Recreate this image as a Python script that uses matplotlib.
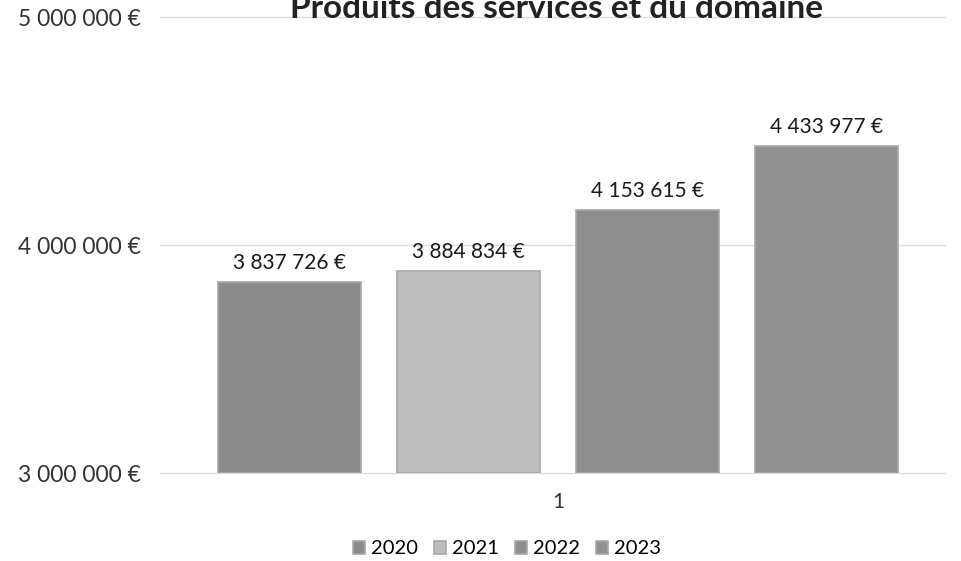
import matplotlib.pyplot as plt
import numpy as np

# data
years = ['2020', '2021', '2022', '2023']
values = [3837726, 3884834, 4153615, 4433977]
colors = ['#8b8b8b', '#bdbdbd', '#8e8e8e', '#919191']
title = 'Produits des services et du domaine'
category = '1'
y_ticks = [3000000, 4000000, 5000000]

plt.rcParams['font.family'] = ['Lato', 'DejaVu Sans']


def fmt(v):
    return '{:,}'.format(v).replace(',', ' ') + ' €'


fig = plt.figure(figsize=(9.61, 5.61), dpi=100)
ax = fig.add_axes([160 / 961, 1 - 473 / 561, 785 / 961, 456 / 561])

step = 0.228
width = 0.183
offsets = (np.arange(len(years)) - 1.5) * step
for off, v, c, y in zip(offsets, values, colors, years):
    ax.bar(off, v - y_ticks[0], bottom=y_ticks[0], width=width, color=c,
           edgecolor='#a8a8a8', linewidth=1.2, label=y, zorder=3)
    ax.text(off, v + 40000, fmt(v), ha='center', va='bottom',
            fontsize=15, color='#1a1a1a')

ax.set_xlim(-0.507, 0.493)
ax.set_ylim(y_ticks[0], y_ticks[-1])
ax.set_yticks(y_ticks, [fmt(t) for t in y_ticks])
ax.set_xticks([0], [category])
ax.tick_params(axis='both', length=0, labelsize=15, colors='#333333')
ax.tick_params(axis='x', pad=14)
for lbl in ax.get_yticklabels():
    lbl.set_fontsize(16.5)
ax.yaxis.set_tick_params(pad=14)
for s in ax.spines.values():
    s.set_visible(False)
ax.grid(axis='y', color='#dcdcdc', linewidth=1)
for gl in ax.get_ygridlines():
    gl.set_clip_on(False)
ax.set_axisbelow(True)

fig.text(557 / 961, 1 - 18 / 561, title, ha='center', va='baseline',
         fontsize=24, fontweight='bold', color='#222222')

fig.legend(loc='center', bbox_to_anchor=(507 / 961, 1 - 549 / 561), ncol=4,
           frameon=False, fontsize=14.5, handlelength=0.6, handleheight=0.6,
           handletextpad=0.3, columnspacing=0.8)

fig.savefig('out.png', dpi=100)
